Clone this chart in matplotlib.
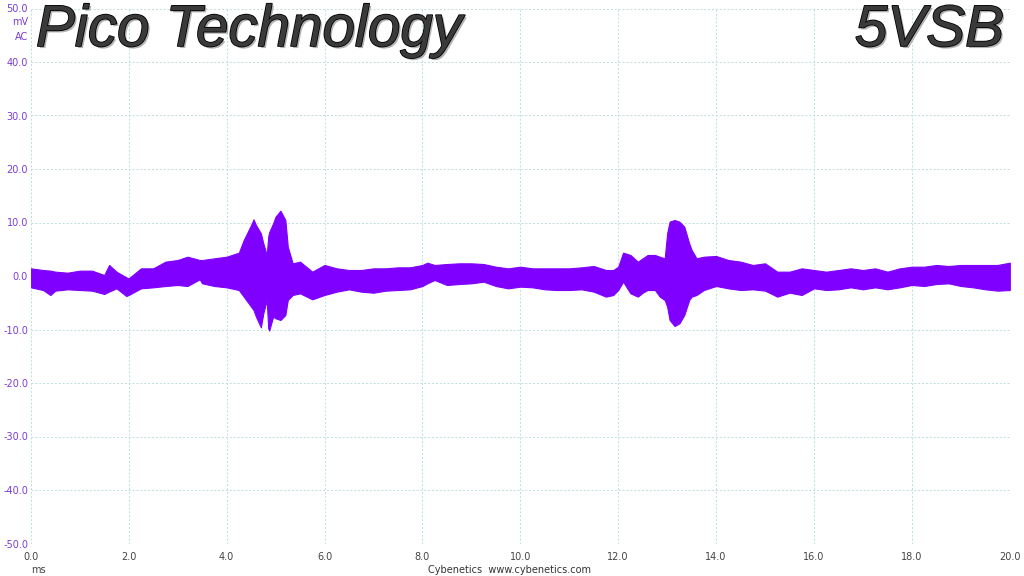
import matplotlib
matplotlib.use("Agg")
import matplotlib.pyplot as plt
import matplotlib.patheffects as pe

# time (ms), upper and lower envelope of the 5VSB ripple trace (mV)
time_ms = [0.0, 0.25, 0.4, 0.5, 0.75, 1.0, 1.25, 1.5, 1.6, 1.75, 1.95, 2.0, 2.25, 2.5, 2.75,
           3.0, 3.2, 3.45, 3.5, 3.75, 4.0, 4.25, 4.35, 4.5, 4.55, 4.6, 4.7, 4.75, 4.82, 4.85,
           4.87, 4.95, 5.0, 5.1, 5.2, 5.25, 5.35, 5.5, 5.75, 6.0, 6.25, 6.5, 6.75, 7.0, 7.25,
           7.5, 7.75, 8.0, 8.1, 8.25, 8.5, 8.75, 9.0, 9.25, 9.5, 9.75, 10.0, 10.25, 10.5,
           10.75, 11.0, 11.25, 11.5, 11.75, 11.9, 12.0, 12.1, 12.25, 12.4, 12.5, 12.6, 12.75,
           12.85, 12.95, 13.0, 13.05, 13.15, 13.25, 13.35, 13.45, 13.5, 13.6, 13.75, 14.0,
           14.25, 14.5, 14.75, 15.0, 15.25, 15.5, 15.75, 16.0, 16.25, 16.5, 16.75, 17.0,
           17.25, 17.5, 17.75, 18.0, 18.25, 18.5, 18.75, 19.0, 19.25, 19.5, 19.75, 20.0]
upper_mv = [1.43, 1.12, 1.0, 0.81, 0.62, 1.00, 1.00, 0.19, 2.06, 0.81, -0.25, -0.44, 1.43, 1.43, 2.68,
            2.99, 3.61, 2.99, 2.99, 3.30, 3.61, 4.36, 6.73, 9.53, 10.59, 9.53, 7.98, 6.11, 3.93, 7.35,
            8.2, 9.84, 11.09, 12.21, 10.47, 5.48, 2.37, 2.68, 0.81, 2.06, 1.43, 1.12, 1.12, 1.43, 1.43,
            1.62, 1.62, 2.06, 2.49, 2.06, 2.24, 2.37, 2.37, 2.24, 1.74, 1.43, 1.74, 1.43, 1.43,
            1.43, 1.43, 1.62, 1.87, 1.12, 1.12, 1.74, 4.36, 3.93, 2.68, 3.30, 3.93, 3.93,
            3.61, 3.30, 7.98, 10.16, 10.47, 10.16, 9.22, 6.11, 4.86, 3.30, 3.61, 3.74,
            2.99, 2.68, 2.06, 2.37, 0.81, 0.81, 1.43, 1.12, 0.81, 1.12, 1.43, 1.12,
            1.43, 0.81, 1.43, 1.74, 1.74, 2.06, 1.87, 2.06, 2.06, 2.06, 2.06, 2.49]
lower_mv = [-2.12, -2.62, -3.55, -2.74, -2.49, -2.62, -2.74, -3.36, -2.9, -2.31, -3.74, -3.55, -2.31, -2.12, -1.87,
            -1.68, -1.87, -0.62, -1.37, -1.87, -2.12, -2.62, -3.86, -5.73, -6.36, -7.60, -9.6, -6.98, -4.49, -9.78,
            -10.2, -7.60, -7.91, -8.22, -7.29, -4.49, -3.55, -3.24, -4.36, -3.55, -2.93, -2.49, -2.93, -3.12, -2.74,
            -2.62, -2.49, -1.87, -1.37, -0.75, -1.68, -1.50, -1.37, -1.06, -1.87, -2.31, -1.99, -2.12, -2.49,
            -2.62, -2.62, -2.49, -2.93, -3.86, -3.55, -2.62, -1.06, -3.24, -3.86, -3.12, -2.62, -2.62,
            -3.86, -4.49, -5.73, -8.22, -9.35, -8.85, -7.29, -4.49, -3.86, -3.55, -2.62, -1.87,
            -2.31, -2.62, -2.49, -2.74, -3.86, -3.12, -3.55, -2.31, -2.62, -2.49, -2.12, -2.49,
            -2.12, -2.49, -2.12, -1.68, -1.87, -1.50, -1.37, -1.87, -2.12, -2.49, -2.74, -2.62]

x_ticks = [0, 2, 4, 6, 8, 10, 12, 14, 16, 18, 20]
x_tick_labels = ["0.0", "2.0", "4.0", "6.0", "8.0", "10.0", "12.0", "14.0", "16.0", "18.0", "20.0"]
y_ticks = [-50, -40, -30, -20, -10, 0, 10, 20, 30, 40, 50]
y_tick_labels = ["-50.0", "-40.0", "-30.0", "-20.0", "-10.0", "0.0", "10.0", "20.0", "30.0", "40.0", "50.0"]

trace_color = "#7F00FF"
label_purple = "#7A3CD6"
grid_color = "#BCDFDF"

fig = plt.figure(figsize=(10.24, 5.76), dpi=100)
fig.patch.set_facecolor("white")
ax = fig.add_axes([30.8 / 1024, 1 - 543.5 / 576, 979 / 1024, 535 / 576])
ax.set_xlim(0, 20)
ax.set_ylim(-50, 50)

ax.fill_between(time_ms, lower_mv, upper_mv, color=trace_color, linewidth=0.8,
                edgecolor=trace_color, zorder=3)

for s in ax.spines.values():
    s.set_visible(False)
ax.set_xticks(x_ticks)
ax.set_yticks(y_ticks)
ax.set_xticklabels(x_tick_labels)
ax.set_yticklabels(y_tick_labels)
ax.tick_params(axis="both", length=0, labelsize=7, pad=3)
ax.tick_params(axis="y", labelcolor=label_purple, pad=2)
ax.tick_params(axis="x", labelcolor="#444444", pad=6)
ax.grid(True, color=grid_color, linestyle=(0, (2, 2)), linewidth=0.7, zorder=0)
ax.set_axisbelow(True)

fig.text(28 / 1024, 1 - 22 / 576, "mV", ha="right", va="center", fontsize=7, color=label_purple)
fig.text(28 / 1024, 1 - 37 / 576, "AC", ha="right", va="center", fontsize=7, color=label_purple)
fig.text(38 / 1024, 1 - 570 / 576, "ms", ha="center", va="center", fontsize=7, color="#444444")
fig.text(510 / 1024, 1 - 570 / 576, "Cybenetics  www.cybenetics.com", ha="center", va="center",
         fontsize=7, color="#333333")

effects = [pe.withSimplePatchShadow(offset=(1.5, -1.5), shadow_rgbFace="#a0a0a0", alpha=0.8),
           pe.Stroke(linewidth=1.2, foreground="#000000"), pe.Normal()]
fig.text(36 / 1024, 1 - 31 / 576, "Pico Technology", ha="left", va="center", fontsize=42,
         fontstyle="italic", family="Liberation Sans", color="#3a3a3a", path_effects=effects)
fig.text(1004 / 1024, 1 - 31 / 576, "5VSB", ha="right", va="center", fontsize=42,
         fontstyle="italic", family="Liberation Sans", color="#3a3a3a", path_effects=effects)

fig.savefig("out.png", dpi=100)
